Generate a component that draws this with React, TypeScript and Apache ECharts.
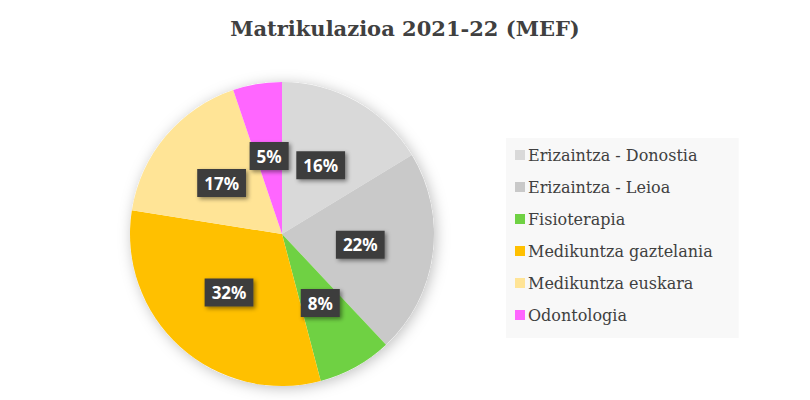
import React, { useEffect, useRef } from "react";
import * as echarts from "echarts";

const categories = [
  "Erizaintza - Donostia",
  "Erizaintza - Leioa",
  "Fisioterapia",
  "Medikuntza gaztelania",
  "Medikuntza euskara",
  "Odontologia",
];
const values = [16.3, 21.7, 7.9, 31.6, 17.3, 5.2];
const colors = ["#d9d9d9", "#c9c9c9", "#6fd143", "#ffc000", "#ffe496", "#ff66ff"];
const titleText = "Matrikulazioa 2021-22 (MEF)";

export default function App() {
  const ref = useRef<HTMLDivElement>(null);
  useEffect(() => {
    if (!ref.current) return;
    const chart = echarts.init(ref.current, null, { renderer: "svg" });
    chart.setOption({
      animation: false,
      backgroundColor: "#ffffff",
      title: {
        text: titleText,
        left: "center",
        top: 13,
        textStyle: {
          fontFamily: "DejaVu Serif",
          fontWeight: "bold",
          fontSize: 21,
          color: "#404040",
        },
      },
      legend: {
        orient: "vertical",
        left: 506,
        top: 138,
        backgroundColor: "#f8f8f8",
        padding: [7, 26, 13, 9],
        itemGap: 12,
        itemWidth: 10,
        itemHeight: 10,
        icon: "rect",
        data: categories,
        textStyle: {
          fontFamily: "DejaVu Serif",
          fontSize: 16,
          color: "#404040",
          lineHeight: 20,
          padding: [0, 0, 0, -2],
        },
      },
      series: [
        {
          type: "pie",
          center: [282, 234],
          radius: 152,
          silent: true,
          z: 1,
          label: { show: false },
          labelLine: { show: false },
          itemStyle: {
            color: "#ffffff",
            shadowBlur: 14,
            shadowColor: "rgba(0,0,0,0.25)",
            shadowOffsetX: 2,
            shadowOffsetY: 2,
          },
          data: [{ value: 1, name: "__bg" }],
          legendHoverLink: false,
        },
        {
          type: "pie",
          center: [282, 234],
          radius: 152,
          startAngle: 90,
          clockwise: true,
          z: 2,
          percentPrecision: 0,
          data: categories.map((c, i) => ({
            name: c,
            value: values[i],
            itemStyle: { color: colors[i] },
          })),
          label: {
            show: true,
            position: "inside",
            formatter: "{d}%",
            fontFamily: "Noto Sans",
            fontWeight: "bold",
            fontSize: 17,
            color: "#ffffff",
            backgroundColor: "#3d3d3d",
            padding: [6, 7, 5, 7],
            shadowBlur: 4,
            shadowColor: "rgba(0,0,0,0.45)",
            shadowOffsetX: 2,
            shadowOffsetY: 2,
          },
          labelLine: { show: false },
        },
      ],
    });
    return () => chart.dispose();
  }, []);
  return (
    <div
      ref={ref}
      style={{ position: "fixed", left: 0, top: 0, width: 810, height: 400 }}
    />
  );
}
